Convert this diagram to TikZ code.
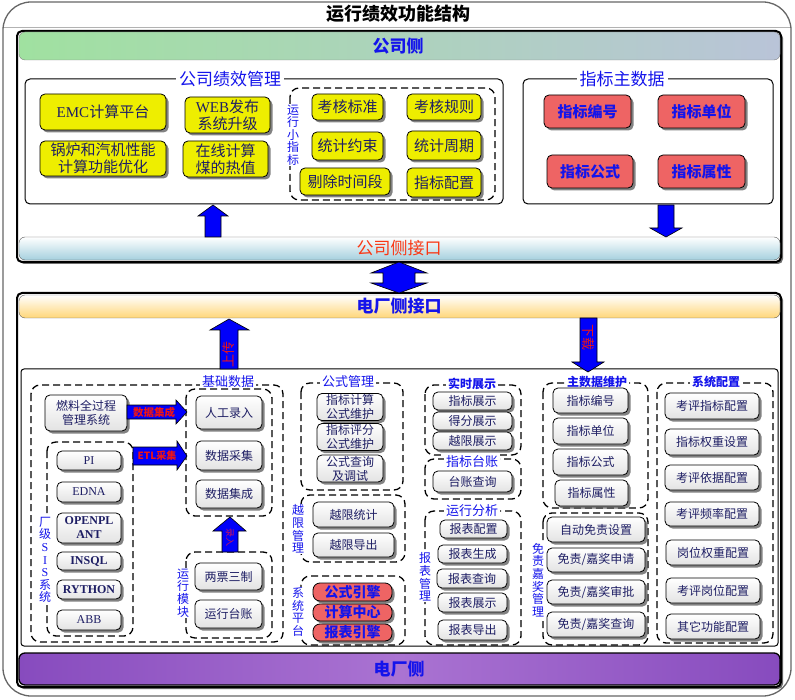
\documentclass[tikz,border=0pt]{standalone}
\usepackage{fontspec}
\setmainfont{Noto Sans CJK SC}
\newfontfamily\lat{Liberation Serif}
\usetikzlibrary{shadows,calc}
\definecolor{navy}{RGB}{30,30,100}
\definecolor{tblue}{RGB}{20,20,235}
\definecolor{ylw}{RGB}{238,238,0}
\definecolor{rbx}{RGB}{238,100,100}
\definecolor{arrblue}{RGB}{0,0,250}
\definecolor{ared}{RGB}{240,20,20}
\definecolor{ored}{RGB}{250,55,20}
\tikzset{
  btnbase/.style={draw=black, line width=0.8pt, rounded corners=5pt, align=center, inner sep=1pt,
    drop shadow={shadow xshift=2.5pt, shadow yshift=-2.5pt, fill=black!65, opacity=0.75}},
  ybox/.style={btnbase, fill=ylw, text=navy, font=\fontsize{15}{17}\selectfont},
  rbox/.style={btnbase, fill=rbx, text=tblue, font=\bfseries\fontsize{15}{17}\selectfont},
  gbox/.style={btnbase, top color=white, bottom color=gray!22, text=navy, font=\fontsize{12}{14}\selectfont},
  ebox/.style={btnbase, rounded corners=7pt, fill=rbx, text=tblue, font=\bfseries\fontsize{14}{15}\selectfont},
  grp/.style={draw=black, line width=1.3pt, dash pattern=on 7pt off 4pt, rounded corners=9pt},
  frm/.style={draw=black, line width=1pt, rounded corners=5pt},
  gtitle/.style={fill=white, text=tblue, inner sep=2pt, font=\fontsize{13}{15}\selectfont},
  btitle/.style={fill=white, text=tblue, inner sep=3pt, font=\fontsize{17}{19}\selectfont},
  vlab/.style={fill=white, text=tblue, inner sep=1pt, align=center, font=\fontsize{12}{12.6}\selectfont},
  barrow/.style={fill=arrblue, draw=black, line width=0.6pt},
  alab/.style={text=ared, font=\bfseries\fontsize{10.5}{12}\selectfont, inner sep=0pt},
  panel/.style={draw=black, line width=2pt, rounded corners=5pt, fill=white,
    drop shadow={shadow xshift=2pt, shadow yshift=-2pt, fill=black!70, opacity=0.8}},
  hdr/.style={inner sep=0pt, font=\bfseries\fontsize{17}{19}\selectfont},
}
\newcommand\mkbox[7]{\node[#1, minimum width={#5pt-#3pt}, minimum height={#6pt-#4pt}] (#2) at ({(#3+#5)/2},{(#4+#6)/2}) {#7};}
\begin{document}
\begin{tikzpicture}[x=1pt,y=-1pt]
\useasboundingbox (0,0) rectangle (795,700);
% outer frame
\draw[draw=gray!80!black, line width=1.3pt, rounded corners=28pt, fill=white] (3,2) rectangle (791,696);
\draw[gray!60, line width=1pt] (4,28) -- (790,28);
\node[font=\bfseries\fontsize{18}{20}\selectfont] (title) at (398,14) {运行绩效功能结构};

% ===== company side panel =====
\draw[panel] (17,31) rectangle (781,262);
\draw[draw=gray, rounded corners=6pt, left color={rgb,255:red,160;green,225;blue,160}, right color={rgb,255:red,185;green,196;blue,216}] (19,32) rectangle (780,60);
\node[hdr, text=tblue] (gsc) at (398,46) {公司侧};

\draw[frm] (25,79) rectangle (503,204);
\node[btitle] (gsjxt) at (230,79) {公司绩效管理};
\draw[frm] (523,79) rectangle (773,204);
\node[btitle] (zbzsjt) at (622,79) {指标主数据};
\draw[grp] (290,88) rectangle (495,200);
\node[vlab] (yxxzb) at (293,135) {运\\行\\小\\指\\标};

\mkbox{ybox}{emc}{40}{94}{166}{130}{{\lat EMC}计算平台}
\mkbox{ybox}{web}{185}{97}{270}{133}{{\lat WEB}发布\\系统升级}
\mkbox{ybox}{boiler}{40}{141}{166}{176}{锅炉和汽机性能\\计算功能优化}
\mkbox{ybox}{coal}{183}{141}{268}{177}{在线计算\\煤的热值}
\mkbox{ybox}{khbz}{312}{94}{383}{120}{考核标准}
\mkbox{ybox}{tjys}{312}{132}{383}{160}{统计约束}
\mkbox{ybox}{tcsjd}{300}{168}{390}{195}{剔除时间段}
\mkbox{ybox}{khgz}{407}{94}{481}{120}{考核规则}
\mkbox{ybox}{tjzq}{407}{131}{481}{160}{统计周期}
\mkbox{ybox}{zbpz}{407}{168}{481}{197}{指标配置}

\mkbox{rbox}{zbbh}{544}{95}{631}{128}{指标编号}
\mkbox{rbox}{zbdw}{658}{95}{745}{128}{指标单位}
\mkbox{rbox}{zbgs}{547}{155}{633}{188}{指标公式}
\mkbox{rbox}{zbsx}{658}{155}{745}{188}{指标属性}

\draw[draw=gray!70!black, rounded corners=6pt, top color=white, bottom color={rgb,255:red,165;green,208;blue,222}] (19,237) rectangle (780,260);
\node[inner sep=0pt, text=ored, font=\fontsize{17}{19}\selectfont] (gsjk) at (399,248) {公司侧接口};

% arrows top
\draw[barrow] (205,237) -- (205,216) -- (198,216) -- (213,205) -- (228,216) -- (221,216) -- (221,237) -- cycle;
\draw[barrow] (658,205) -- (658,228) -- (650,228) -- (666,237) -- (682,228) -- (674,228) -- (674,205) -- cycle;

% ===== plant side panel =====
\draw[panel] (17,293) rectangle (781,687);
\draw[draw=gray!70!black, rounded corners=6pt, top color=white, bottom color={rgb,255:red,255;green,214;blue,120}] (19,295) rectangle (780,318);
\node[hdr, text=tblue] (dcjk) at (399,306) {电厂侧接口};

% double arrow
\draw[barrow] (399,262) -- (427,273) -- (415,273) -- (415,283) -- (427,283) -- (399,293) -- (371,283) -- (383,283) -- (383,273) -- (371,273) -- cycle;

\draw[draw=black, line width=1pt, rounded corners=3pt] (21,369) rectangle (778,646);

% upload / download arrows
\draw[barrow] (220,369) -- (220,330) -- (210,330) -- (229,319) -- (249,330) -- (238,330) -- (238,369) -- cycle;
\node[alab, rotate=90, font=\fontsize{13}{14}\selectfont] (sc) at (229,355) {上传};
\draw[barrow] (580,318) -- (580,362) -- (572,362) -- (588,372) -- (604,362) -- (597,362) -- (597,318) -- cycle;
\node[alab, rotate=-90, font=\fontsize{13}{14}\selectfont] (xz) at (588,338) {下载};

% --- column 1 ---
\draw[grp] (31,385) rectangle (283,642);
\node[gtitle] (jcsjt) at (228,382) {基础数据};
\draw[grp] (47,442) rectangle (133,636);
\node[vlab] (sisl) at (45,560) {厂\\级\\{\lat S}\\{\lat I}\\{\lat S}\\系\\统};
\draw[grp] (186,389) rectangle (272,516);
\draw[grp] (186,552) rectangle (272,638);
\node[vlab] (yxmkl) at (183,593) {运\\行\\模\\块};

\mkbox{gbox}{rlgc}{45}{395}{127}{431}{燃料全过程\\管理系统}
\mkbox{gbox}{pi}{57}{451}{121}{470}{\lat PI}
\mkbox{gbox}{edna}{57}{482}{121}{502}{\lat EDNA}
\mkbox{gbox}{opl}{57}{513}{121}{543}{\lat\bfseries OPENPL\\\lat\bfseries ANT}
\mkbox{gbox}{insql}{57}{552}{121}{570}{\lat\bfseries INSQL}
\mkbox{gbox}{rython}{57}{580}{121}{599}{\lat\bfseries RYTHON}
\mkbox{gbox}{abb}{57}{610}{121}{630}{\lat ABB}
\mkbox{gbox}{rglr}{196}{396}{262}{429}{人工录入}
\mkbox{gbox}{sjcj}{196}{441}{262}{470}{数据采集}
\mkbox{gbox}{sjjc}{196}{480}{262}{508}{数据集成}
\mkbox{gbox}{lpsz}{195}{563}{262}{590}{两票三制}
\mkbox{gbox}{yxtz}{195}{600}{262}{628}{运行台账}

\draw[barrow] (127,405) -- (176,405) -- (176,400) -- (187,412) -- (176,424) -- (176,419) -- (127,419) -- cycle;
\node[alab] (sjjcl) at (154,412) {数据集成};
\draw[barrow] (133,447) -- (177,447) -- (177,441) -- (187,456) -- (177,470) -- (177,465) -- (133,465) -- cycle;
\node[alab, font=\bfseries\fontsize{10}{12}\selectfont] (etl) at (157,456) {ETL采集};
\draw[barrow] (222,552) -- (222,531) -- (213,531) -- (230,517) -- (246,531) -- (238,531) -- (238,552) -- cycle;
\node[alab, rotate=-90, text={rgb,255:red,200;green,20;blue,90}, font=\fontsize{9}{10}\selectfont] (lr) at (230,537) {录入};

% --- column 2 ---
\draw[grp] (301,383) rectangle (403,490);
\node[gtitle] (gsglt) at (348,382) {公式管理};
\draw[grp] (301,495) rectangle (405,562);
\node[vlab] (yxgll) at (298,529) {越\\限\\管\\理};
\draw[grp] (301,576) rectangle (405,645);
\node[vlab] (xtptl) at (298,612) {系\\统\\平\\台};
\mkbox{gbox}{gs1}{317}{394}{383}{420}{指标计算\\公式维护}
\mkbox{gbox}{gs2}{317}{424}{383}{450}{指标评分\\公式维护}
\mkbox{gbox}{gs3}{317}{455}{383}{482}{公式查询\\及调试}
\mkbox{gbox}{yx1}{313}{502}{394}{527}{越限统计}
\mkbox{gbox}{yx2}{313}{533}{394}{557}{越限导出}
\mkbox{ebox}{gsyq}{313}{583}{392}{601}{公式引擎}
\mkbox{ebox}{jszx}{313}{604}{392}{621}{计算中心}
\mkbox{ebox}{bbyq}{313}{624}{392}{641}{报表引擎}

% --- column 3 ---
\draw[grp] (425,385) rectangle (521,455);
\node[gtitle, font=\bfseries\fontsize{12}{14}\selectfont] (sszst) at (472,384) {实时展示};
\draw[grp] (425,459) rectangle (521,499);
\node[gtitle] (zbtzt) at (472,462) {指标台账};
\draw[grp] (425,511) rectangle (521,645);
\node[gtitle] (yxfxt) at (472,511) {运行分析};
\node[vlab] (bbgll) at (425,577) {报\\表\\管\\理};
\mkbox{gbox}{zs1}{433}{392}{512}{410}{指标展示}
\mkbox{gbox}{zs2}{433}{412}{512}{430}{得分展示}
\mkbox{gbox}{zs3}{433}{432}{512}{450}{越限展示}
\mkbox{gbox}{tzcx}{433}{471}{512}{492}{台账查询}
\mkbox{gbox}{bb1}{440}{520}{507}{538}{报表配置}
\mkbox{gbox}{bb2}{438}{545}{507}{563}{报表生成}
\mkbox{gbox}{bb3}{437}{569}{507}{588}{报表查询}
\mkbox{gbox}{bb4}{438}{593}{507}{612}{报表展示}
\mkbox{gbox}{bb5}{438}{620}{507}{640}{报表导出}

% --- column 4 ---
\draw[grp] (543,383) rectangle (648,508);
\node[gtitle, font=\bfseries\fontsize{12}{14}\selectfont] (zsjwht) at (597,382) {主数据维护};
\draw[grp] (543,513) rectangle (648,645);
\node[vlab] (mzjjl) at (538,580) {免\\责\\嘉\\奖\\管\\理};
\mkbox{gbox}{zsj1}{553}{388}{628}{413}{指标编号}
\mkbox{gbox}{zsj2}{553}{418}{628}{444}{指标单位}
\mkbox{gbox}{zsj3}{553}{449}{628}{475}{指标公式}
\mkbox{gbox}{zsj4}{555}{480}{628}{506}{指标属性}
\mkbox{gbox}{mz1}{547}{517}{645}{542}{自动免责设置}
\mkbox{gbox}{mz2}{547}{548}{645}{572}{免责/嘉奖申请}
\mkbox{gbox}{mz3}{547}{580}{645}{604}{免责/嘉奖审批}
\mkbox{gbox}{mz4}{547}{612}{645}{637}{免责/嘉奖查询}

% --- column 5 ---
\draw[grp] (657,383) rectangle (773,643);
\node[gtitle, font=\bfseries\fontsize{12}{14}\selectfont] (xtpzt) at (716,382) {系统配置};
\mkbox{gbox}{pz1}{665}{393}{759}{419}{考评指标配置}
\mkbox{gbox}{pz2}{665}{429}{759}{455}{指标权重设置}
\mkbox{gbox}{pz3}{665}{465}{759}{490}{考评依据配置}
\mkbox{gbox}{pz4}{665}{502}{759}{526}{考评频率配置}
\mkbox{gbox}{pz5}{666}{540}{760}{565}{岗位权重配置}
\mkbox{gbox}{pz6}{666}{578}{760}{603}{考评岗位配置}
\mkbox{gbox}{pz7}{666}{614}{760}{639}{其它功能配置}

% bottom bar
\draw[draw=black, line width=1.3pt, rounded corners=6pt, left color={rgb,255:red,135;green,75;blue,190}, right color={rgb,255:red,135;green,75;blue,190}, middle color={rgb,255:red,170;green,115;blue,210}] (19,653) rectangle (780,685);
\node[hdr, text=tblue] (dcc) at (399,669) {电厂侧};
\end{tikzpicture}
\end{document}
